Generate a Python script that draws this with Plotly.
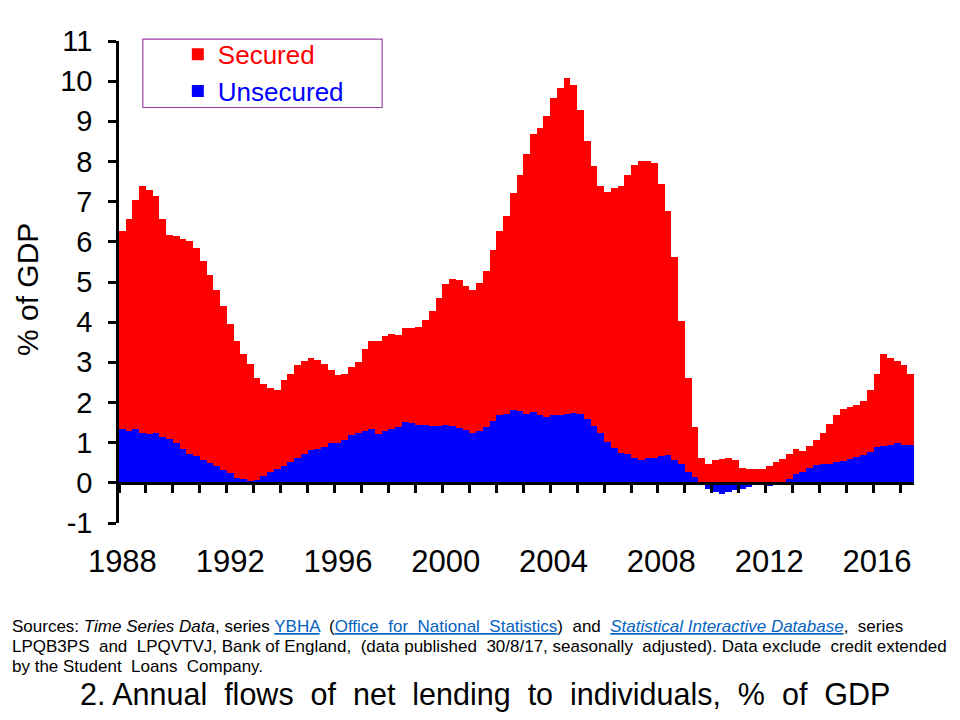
import plotly.graph_objects as go

# Quarterly data, 1988 Q1 to 2017 Q2, % of GDP
start_year = 1988
secured = [
    4.93, 5.28, 5.70, 6.16, 6.08, 5.90, 5.43, 5.07,  # 1988-89
    5.14, 5.23, 5.30, 5.17, 4.95, 4.68, 4.39, 4.09,  # 1990-91
    3.72, 3.41, 3.13, 2.90, 2.53, 2.30, 2.09, 1.97,  # 1992-93
    2.14, 2.20, 2.33, 2.31, 2.31, 2.22, 2.05, 1.84,  # 1994-95
    1.69, 1.65, 1.70, 1.78, 2.04, 2.19, 2.30, 2.37,  # 1996-97
    2.36, 2.31, 2.34, 2.38, 2.43, 2.60, 2.85, 3.19,  # 1998-99
    3.51, 3.66, 3.70, 3.60, 3.56, 3.68, 3.87, 4.25,  # 2000-01
    4.59, 4.93, 5.40, 5.88, 6.47, 6.92, 7.14, 7.51,  # 2002-03
    7.88, 8.12, 8.37, 8.15, 7.55, 6.90, 6.47, 6.16,  # 2004-05
    6.22, 6.46, 6.65, 6.95, 7.30, 7.46, 7.41, 7.35,  # 2006-07
    6.75, 6.07, 5.05, 3.56, 2.33, 1.24, 0.61, 0.46,  # 2008-09
    0.56, 0.60, 0.63, 0.57, 0.38, 0.35, 0.35, 0.35,  # 2010-11
    0.41, 0.53, 0.60, 0.64, 0.63, 0.52, 0.54, 0.62,  # 2012-13
    0.78, 0.98, 1.19, 1.31, 1.29, 1.30, 1.33, 1.55,  # 2014-15
    1.84, 2.28, 2.17, 2.05, 2.00, 1.79,              # 2016-17
]
unsecured = [
    1.33, 1.29, 1.35, 1.24, 1.22, 1.23, 1.14, 1.09,
    1.00, 0.85, 0.73, 0.67, 0.58, 0.50, 0.41, 0.32,
    0.24, 0.12, 0.09, 0.05, 0.08, 0.17, 0.26, 0.35,
    0.43, 0.52, 0.61, 0.73, 0.81, 0.85, 0.90, 0.98,
    1.00, 1.07, 1.19, 1.23, 1.28, 1.34, 1.22, 1.29,
    1.35, 1.38, 1.52, 1.48, 1.45, 1.45, 1.42, 1.42,
    1.44, 1.42, 1.36, 1.31, 1.24, 1.30, 1.40, 1.55,
    1.69, 1.72, 1.82, 1.79, 1.72, 1.77, 1.69, 1.63,
    1.70, 1.70, 1.72, 1.75, 1.72, 1.60, 1.42, 1.24,
    1.01, 0.87, 0.75, 0.72, 0.61, 0.56, 0.61, 0.61,
    0.68, 0.70, 0.58, 0.46, 0.27, 0.14, -0.05, -0.16,
    -0.24, -0.29, -0.22, -0.18, -0.16, -0.10, -0.06, -0.04,
    -0.07, -0.04, -0.02, 0.09, 0.22, 0.28, 0.38, 0.44,
    0.46, 0.48, 0.51, 0.54, 0.60, 0.64, 0.70, 0.77,
    0.88, 0.92, 0.95, 0.98, 0.93, 0.93,
]
label_years = [1988, 1992, 1996, 2000, 2004, 2008, 2012, 2016]
y_ticks = [-1, 0, 1, 2, 3, 4, 5, 6, 7, 8, 9, 10, 11]

# bar centres: middle of each quarter
x = [start_year + (i + 0.5) / 4 for i in range(len(secured))]
x_end = start_year + len(secured) / 4

fig = go.Figure()
fig.add_trace(go.Bar(x=x, y=unsecured, name="<span style='color:#0000ff'>Unsecured</span>",
                     marker=dict(color="#0000ff", line=dict(width=0))))
fig.add_trace(go.Bar(x=x, y=secured, name="<span style='color:#ff0000'>Secured</span>",
                     marker=dict(color="#ff0000", line=dict(width=0))))

# legend box
fig.add_shape(type="rect", xref="paper", yref="paper",
              x0=0.030, x1=0.331, y0=0.862, y1=1.004,
              line=dict(color="#a040a8", width=1.2))

narrow = "Liberation Sans Narrow, Arial Narrow, Liberation Sans"
sources = [
    "Sources: <i>Time Series Data</i>, series <span style='color:#0563c1;text-decoration:underline'>YBHA</span>  "
    "(<span style='color:#0563c1;text-decoration:underline'>Office  for  National  Statistics</span>)  and  "
    "<span style='color:#0563c1;text-decoration:underline'><i>Statistical Interactive Database</i></span>,  series",
    "LPQB3PS  and  LPQVTVJ, Bank of England,  (data published  30/8/17, seasonally  adjusted). "
    "Data exclude  credit extended",
    "by the Student  Loans  Company.",
]
for i, line in enumerate(sources):
    fig.add_annotation(text=line, xref="paper", yref="paper", x=-0.137, y=-0.214 - i * 0.0415,
                       xanchor="left", yanchor="middle", showarrow=False, align="left",
                       font=dict(family=narrow, size=17, color="black"))
fig.add_annotation(text="2. Annual  flows  of  net  lending  to  individuals,  %  of  GDP",
                   xref="paper", yref="paper", x=0.46, y=-0.356, xanchor="center",
                   yanchor="middle", showarrow=False,
                   font=dict(family=narrow, size=30.5, color="black"))
# y-axis title
fig.add_annotation(text="% of GDP", xref="paper", yref="paper", x=-0.116, y=0.485,
                   textangle=-90, xanchor="center", yanchor="middle", showarrow=False,
                   font=dict(size=30, color="black"))

# the page puts the figure 8px in from the window corner
fig.update_layout(
    width=952, height=712,
    margin=dict(l=111, r=46, t=33, b=197),
    paper_bgcolor="white", plot_bgcolor="white",
    barmode="relative", bargap=0,
    font=dict(family="Liberation Sans, Arial", color="black"),
    legend=dict(x=0.074, y=1.021, xanchor="left", yanchor="top",
                bgcolor="rgba(0,0,0,0)", borderwidth=0,
                font=dict(size=26), traceorder="reversed"),
    xaxis=dict(range=[start_year, x_end], anchor="free", position=1 / 12,
               automargin=False,
               showline=True, linecolor="black", linewidth=2.5,
               showgrid=False, zeroline=False,
               tickvals=[yr + 0.125 for yr in label_years],
               ticktext=[str(yr) for yr in label_years],
               ticks="", ticklabelstandoff=50,
               tickfont=dict(size=31),
               minor=dict(tick0=start_year, dtick=1, ticks="outside", ticklen=8,
                          tickwidth=2.5, tickcolor="black", showgrid=False)),
    yaxis=dict(range=[-1, 11], tickvals=y_ticks, ticktext=[str(v) for v in y_ticks],
               showline=True, linecolor="black", linewidth=2.5,
               automargin=False,
               ticks="outside", ticklen=8, tickwidth=2.5, tickcolor="black",
               showgrid=False, zeroline=False, tickfont=dict(size=29),
               ticklabelstandoff=10),
)

fig.write_html("out.html")
